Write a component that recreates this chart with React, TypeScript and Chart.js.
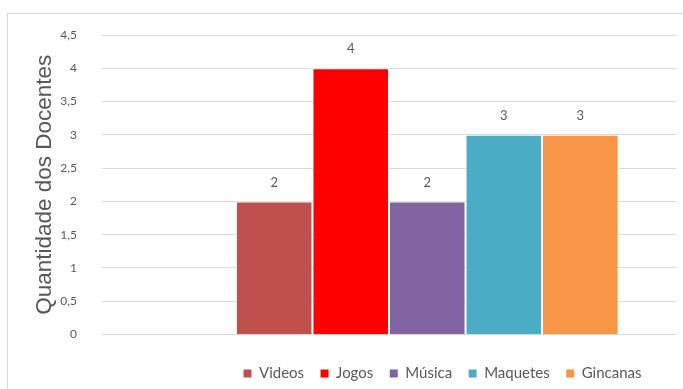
import React, { useEffect, useRef } from "react";
import { Chart, registerables } from "chart.js";

Chart.register(...registerables);

const categories = [""];
const seriesNames = ["", "Videos", "Jogos", "Música", "Maquetes", "Gincanas"];
const seriesValues: (number | null)[] = [null, 2, 4, 2, 3, 3];
const seriesColors = ["rgba(0,0,0,0)", "#C0504D", "#FF0000", "#8064A2", "#4BACC6", "#F79646"];
const yTicks = [0, 0.5, 1, 1.5, 2, 2.5, 3, 3.5, 4, 4.5];
const yTitle = "Quantidade dos Docentes";

const GRAY = "#595959";
const FONT = "Lato, 'Noto Sans', sans-serif";

const valueLabels = {
  id: "valueLabels",
  afterDatasetsDraw(chart: any) {
    const ctx = chart.ctx;
    ctx.save();
    ctx.fillStyle = GRAY;
    ctx.font = `13px ${FONT}`;
    ctx.textAlign = "center";
    ctx.textBaseline = "middle";
    chart.data.datasets.forEach((ds: any, i: number) => {
      const meta = chart.getDatasetMeta(i);
      meta.data.forEach((el: any, j: number) => {
        const v = ds.data[j];
        if (v === null || v === undefined) return;
        ctx.fillText(String(v).replace(".", ","), el.x, el.y - 19);
      });
    });
    ctx.restore();
  },
};

export default function App() {
  const ref = useRef<HTMLCanvasElement | null>(null);
  useEffect(() => {
    if (!ref.current) return;
    const chart = new Chart(ref.current, {
      type: "bar",
      data: {
        labels: categories,
        datasets: seriesNames.map((name, i) => ({
          label: name,
          data: [seriesValues[i]],
          backgroundColor: seriesColors[i],
          borderColor: "#ffffff",
          borderWidth: { left: 1, right: 1, top: 1, bottom: 0 },
          categoryPercentage: 0.8,
          barPercentage: 1,
        })),
      },
      plugins: [valueLabels],
      options: {
        responsive: false,
        animation: false,
        layout: { padding: { left: 0, right: 0, top: 21, bottom: 0 } },
        plugins: {
          tooltip: { enabled: false },
          legend: {
            position: "bottom",
            labels: {
              boxWidth: 8,
              boxHeight: 8,
              padding: 16.5,
              color: GRAY,
              font: { size: 15, family: FONT },
              filter: (item: any) => item.text !== "",
              generateLabels: (c: any) =>
                Chart.defaults.plugins.legend.labels.generateLabels(c).map((l: any) => ({
                  ...l,
                  strokeStyle: "rgba(0,0,0,0)",
                  lineWidth: 0,
                })),
            },
          },
        },
        scales: {
          x: {
            display: true,
            grid: { display: false },
            border: { display: false },
            ticks: { display: false },
            afterFit: (s: any) => {
              s.height = 15;
            },
          },
          y: {
            min: 0,
            max: 4.5,
            afterFit: (s: any) => {
              s.width = 94;
            },
            afterBuildTicks: (s: any) => {
              s.ticks = yTicks.map((v) => ({ value: v }));
            },
            grid: {
              color: "#d9d9d9",
              lineWidth: 1,
              drawTicks: true,
              tickLength: 12,
              tickColor: "rgba(0,0,0,0)",
            },
            border: { display: false },
            ticks: {
              padding: 13,
              color: GRAY,
              font: { size: 12, family: FONT },
              callback: (v: any) => String(v).replace(".", ","),
            },
            title: {
              display: true,
              text: yTitle,
              color: GRAY,
              font: { size: 22.5, family: "'Liberation Sans', Arial, sans-serif" },
              padding: { top: 23, bottom: 0 },
            },
          },
          yRight: {
            position: "right",
            display: true,
            min: 0,
            max: 4.5,
            grid: { display: false },
            border: { display: false },
            ticks: { display: false },
            afterFit: (s: any) => {
              s.width = 201;
            },
          },
        },
      },
    });
    return () => chart.destroy();
  }, []);

  return (
    <div
      style={{
        position: "absolute",
        left: 7,
        top: 13,
        width: 676,
        height: 376,
        boxSizing: "border-box",
        borderLeft: "1px solid #d9d9d9",
        borderTop: "1px solid #d9d9d9",
        overflow: "hidden",
        background: "#fff",
      }}
    >
      <canvas
        ref={ref}
        width={869}
        height={377}
        style={{ position: "absolute", left: 0, top: 0, width: 869, height: 377 }}
      />
    </div>
  );
}
